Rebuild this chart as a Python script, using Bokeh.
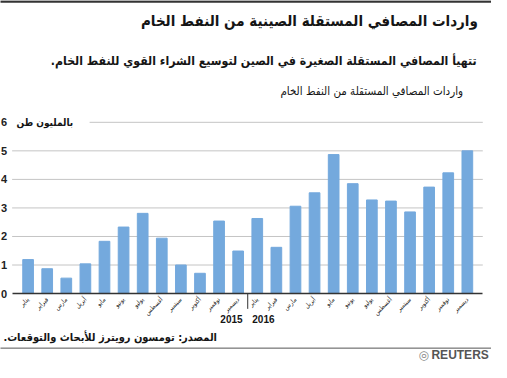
import math
from bokeh.plotting import figure
from bokeh.models import FixedTicker, Label, Arrow, Range1d
from bokeh.embed import file_html
from bokeh.resources import INLINE

# ---- data ----
months = ["يناير", "فبراير", "مارس", "أبريل", "مايو", "يونيو",
          "يوليو", "أغسطس", "سبتمبر", "أكتوبر", "نوفمبر", "ديسمبر"]
years = ["2015", "2016"]
values_2015 = [1.19, 0.87, 0.54, 1.04, 1.83, 2.33, 2.81, 1.94, 1.00, 0.71, 2.54, 1.49]
values_2016 = [2.63, 1.62, 3.06, 3.53, 4.87, 3.85, 3.28, 3.24, 2.86, 3.73, 4.23, 5.00]
y_ticks = [0, 1, 2, 3, 4, 5, 6]

title_text = "واردات المصافي المستقلة الصينية من النفط الخام"
subtitle_text = "تتهيأ المصافي المستقلة الصغيرة في الصين لتوسيع الشراء القوي للنفط الخام.\u200f"
chart_title = "واردات المصافي المستقلة من النفط الخام"
unit_text = "بالمليون طن"
source_text = "المصدر: تومسون رويترز للأبحاث والتوقعات.\u200f"

values = values_2015 + values_2016
labels = months + months
xs = list(range(len(values)))

AR = "DejaVu Sans Condensed, DejaVu Sans"
LAT = "Liberation Sans"
BAR = "#74a9dd"
GRID = "#c4c4c4"
INK = "#151515"

# helpers: reference-layout pixel -> data coordinates
def dx(px):
    return (px - 28.5) / 19.72

def dy(py):
    return (306 - py) / 29.8

p = figure(width=491, height=362, output_backend="svg", toolbar_location=None,
           x_range=Range1d(dx(0), dx(507)), y_range=Range1d(dy(378), dy(0)),
           min_border=0, title=None)
p.outline_line_color = None
p.background_fill_color = "white"
p.border_fill_color = "white"
p.xgrid.visible = False
p.ygrid.visible = False

# gridlines
for t in y_ticks[1:]:
    start = dx(92) if t == y_ticks[-1] else dx(12)
    p.add_layout(Arrow(end=None, x_start=start, y_start=t, x_end=dx(498), y_end=t,
                       line_color=GRID, line_width=1, level="underlay"))

p.vbar(x=xs, top=values, width=0.56, color=BAR)

# axes
xa = p.xaxis[0]
xa.fixed_location = 0
xa.bounds = (dx(12), dx(498))
xa.ticker = FixedTicker(ticks=xs)
xa.major_label_overrides = {x: lab for x, lab in zip(xs, labels)}
xa.major_label_orientation = math.pi / 4
xa.major_label_text_font = AR
xa.major_label_text_font_size = "6.5px"
xa.major_label_text_color = "#222"
xa.major_label_standoff = 5
xa.major_tick_line_color = None
xa.major_tick_out = 0
xa.major_tick_in = 0
xa.minor_tick_line_color = None
xa.minor_tick_out = 0
xa.axis_line_color = "#333"
xa.axis_line_width = 1.5

# year separator
p.add_layout(Arrow(end=None, x_start=11.5, y_start=0, x_end=11.5, y_end=dy(322),
                   line_color="#333", line_width=1))

ya = p.yaxis[0]
ya.fixed_location = dx(9)
ya.ticker = FixedTicker(ticks=y_ticks)
ya.axis_line_color = None
ya.major_tick_line_color = None
ya.minor_tick_line_color = None
ya.major_tick_out = 0
ya.major_tick_in = 0
ya.minor_tick_out = 0
ya.major_label_text_font = LAT
ya.major_label_text_font_style = "bold"
ya.major_label_text_font_size = "11px"
ya.major_label_text_color = "#222"
ya.major_label_standoff = 2

# top and bottom rules
p.add_layout(Arrow(end=None, x_start=dx(-10), y_start=dy(1), x_end=dx(520), y_end=dy(1),
                   line_color="#333", line_width=2.5))
p.add_layout(Arrow(end=None, x_start=dx(-10), y_start=dy(363), x_end=dx(520), y_end=dy(363),
                   line_color="#555", line_width=1))

# texts (edges placed from the reference layout)
def label(x, y, text, font, size, bold=False, color=INK, align="left"):
    p.add_layout(Label(x=x, y=y, text=text, text_font=font,
                       text_font_style="bold" if bold else "normal",
                       text_font_size=size, text_align=align, text_baseline="middle",
                       text_color=color))

label(dx(145), dy(21), title_text, AR, "15px", bold=True)
label(dx(52), dy(63), subtitle_text, AR, "12.2px", bold=True)
label(dx(289), dy(95), chart_title, AR, "11.5px")
label(dx(75), dy(127), unit_text, AR, "10px", bold=True, align="right")
label(dx(227), dy(333), years[0], LAT, "10px", bold=True)
label(dx(260), dy(333), years[1], LAT, "10px", bold=True)
label(dx(3), dy(352), source_text, AR, "11px", bold=True)
label(dx(445), dy(370), "REUTERS", LAT, "12px", bold=True, color="#555")
label(dx(437), dy(370), "◎", "DejaVu Sans", "12px", color="#888", align="center")

open("out.html", "w").write(file_html(p, INLINE))
